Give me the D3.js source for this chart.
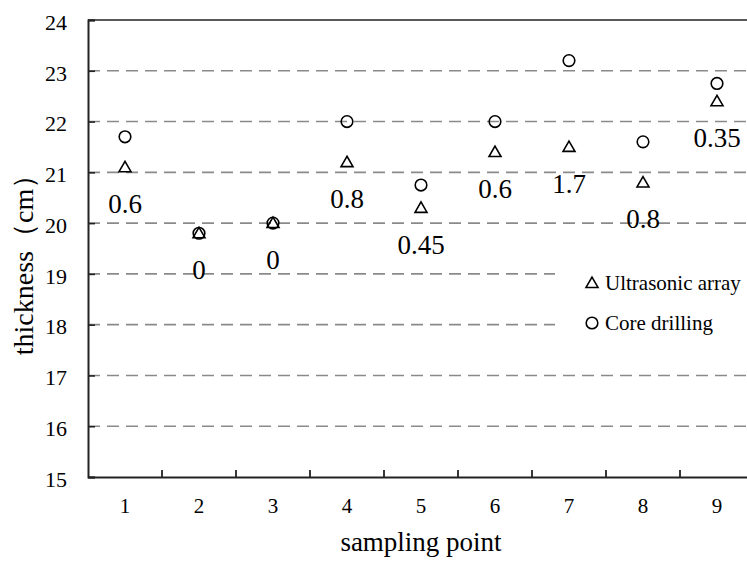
<!DOCTYPE html>
<html>
<head>
<meta charset="utf-8">
<script src="https://cdn.jsdelivr.net/npm/d3@7/dist/d3.min.js"></script>
<style>
  html, body { margin: 0; padding: 0; background: #fff; }
  svg { display: block; }
  text { font-family: "Liberation Serif", "Times New Roman", serif; fill: #000; }
</style>
</head>
<body>
<svg id="chart" width="747" height="561"></svg>
<script>
const categories = ["1", "2", "3", "4", "5", "6", "7", "8", "9"];
const ultrasonic = [21.1, 19.8, 20.0, 21.2, 20.3, 21.4, 21.5, 20.8, 22.4];
const coreDrilling = [21.7, 19.8, 20.0, 22.0, 20.75, 22.0, 23.2, 21.6, 22.75];
const diffLabels = ["0.6", "0", "0", "0.8", "0.45", "0.6", "1.7", "0.8", "0.35"];
const yTicks = [15, 16, 17, 18, 19, 20, 21, 22, 23, 24];
const seriesNames = ["Ultrasonic array", "Core drilling"];

const svg = d3.select("#chart");
const mLeft = 88, mTop = 20, mBottom = 477, mRight = 754;
const serif = "'Liberation Serif', 'Times New Roman', serif";

const x = d3.scaleBand().domain(categories).range([mLeft, mRight]).padding(0);
const y = d3.scaleLinear().domain([15, 24]).range([mBottom, mTop]);

// gridlines
const gridVals = yTicks.filter(v => v > 15 && v < 24);
svg.append("g").selectAll("line").data(gridVals).join("line")
  .attr("x1", mLeft).attr("x2", mRight)
  .attr("y1", d => y(d)).attr("y2", d => y(d))
  .attr("stroke", "#8a8a8a").attr("stroke-width", 1.6)
  .attr("stroke-dasharray", "12,7");

// top border
svg.append("line").attr("x1", mLeft).attr("x2", mRight)
  .attr("y1", y(24)).attr("y2", y(24))
  .attr("stroke", "#222").attr("stroke-width", 1.6);

// legend background (covers gridlines)
svg.append("rect").attr("x", 555).attr("y", 252).attr("width", 200).attr("height", 96)
  .attr("fill", "#fff");

// y axis
const yAxis = d3.axisLeft(y).tickValues(yTicks).tickSize(-7).tickPadding(21).tickFormat(d3.format("d"));
const gy = svg.append("g").attr("transform", `translate(${mLeft},0)`).call(yAxis);
gy.attr("font-family", serif);
gy.select(".domain").attr("stroke", "#222").attr("stroke-width", 2);
gy.selectAll(".tick line").attr("stroke", "#222").attr("stroke-width", 1.6);
gy.selectAll(".tick text").attr("font-size", 22).style("font-family", serif).attr("dy", "0.42em");

// x axis
const xAxis = d3.axisBottom(x).tickSize(0).tickPadding(21);
const gx = svg.append("g").attr("transform", `translate(0,${mBottom})`).call(xAxis);
gx.attr("font-family", serif);
gx.select(".domain").attr("stroke", "#222").attr("stroke-width", 2);
gx.selectAll(".tick text").attr("font-size", 21).style("font-family", serif);
// boundary ticks (inward)
const bounds = categories.slice(1).map(c => x(c));
svg.append("g").selectAll("line").data(bounds).join("line")
  .attr("x1", d => d).attr("x2", d => d)
  .attr("y1", mBottom).attr("y2", mBottom - 7)
  .attr("stroke", "#222").attr("stroke-width", 1.8);

// axis titles
svg.append("text").attr("x", 421).attr("y", 551).attr("text-anchor", "middle")
  .attr("font-size", 27).style("font-family", serif).text("sampling point");
svg.append("text").attr("transform", "translate(33,258) rotate(-90)")
  .attr("text-anchor", "middle").attr("font-size", 28).style("font-family", serif).text("thickness（cm）");

const cx = d => x(d) + x.bandwidth() / 2;
const triPath = d3.symbol().type(d3.symbolTriangle).size(62);

// circles
svg.append("g").selectAll("circle").data(categories).join("circle")
  .attr("cx", d => cx(d)).attr("cy", (d, i) => y(coreDrilling[i]))
  .attr("r", 5.8).attr("fill", "none").attr("stroke", "#000").attr("stroke-width", 1.6);

// triangles
svg.append("g").selectAll("path").data(categories).join("path")
  .attr("d", triPath)
  .attr("transform", (d, i) => `translate(${cx(d)},${y(ultrasonic[i]) + 1})`)
  .attr("fill", "none").attr("stroke", "#000").attr("stroke-width", 1.6);

// difference labels
svg.append("g").selectAll("text").data(categories).join("text")
  .attr("x", d => cx(d)).attr("y", (d, i) => y(ultrasonic[i]) + 46)
  .attr("text-anchor", "middle").attr("font-size", 27).style("font-family", serif)
  .text((d, i) => diffLabels[i]);

// legend
const legY = [283, 323];
svg.append("path").attr("d", triPath).attr("transform", `translate(592,${legY[0] + 1})`)
  .attr("fill", "none").attr("stroke", "#000").attr("stroke-width", 1.6);
svg.append("circle").attr("cx", 592).attr("cy", legY[1]).attr("r", 5.8)
  .attr("fill", "none").attr("stroke", "#000").attr("stroke-width", 1.6);
svg.append("g").selectAll("text").data(seriesNames).join("text")
  .attr("x", 605).attr("y", (d, i) => legY[i] + 7)
  .attr("font-size", 21).style("font-family", serif).text(d => d);
</script>
</body>
</html>
